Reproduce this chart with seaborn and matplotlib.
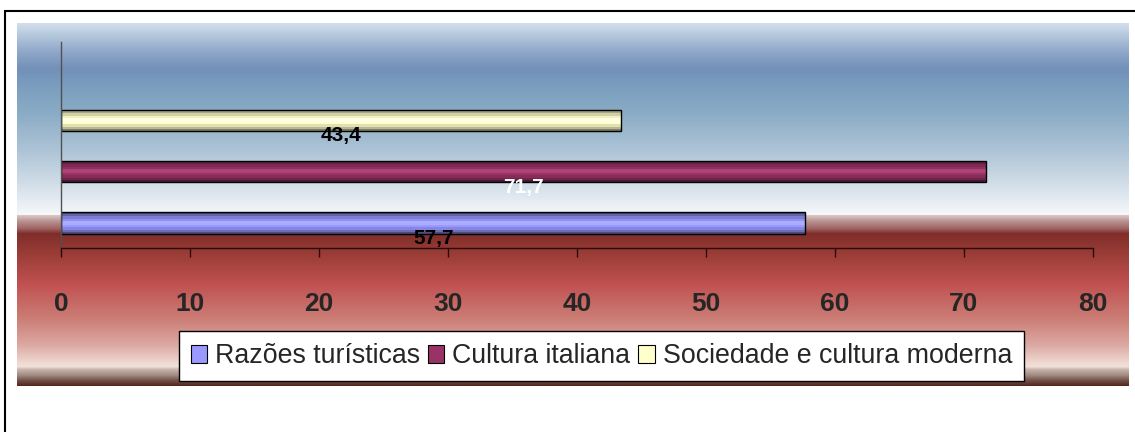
import numpy as np
import pandas as pd
import matplotlib.pyplot as plt
import seaborn as sns
from matplotlib.colors import to_rgb
from matplotlib.patches import Patch, Rectangle

# Dados
series = ["Razões turísticas", "Cultura italiana", "Sociedade e cultura moderna"]
valores = [57.7, 71.7, 43.4]
rotulos = ["57,7", "71,7", "43,4"]
cores = ["#9999FF", "#993366", "#FFFFCC"]
cor_rotulo = ["black", "white", "black"]
ticks_x = [0, 10, 20, 30, 40, 50, 60, 70, 80]

sns.set_theme(style="white")
plt.rcParams["font.family"] = ["Liberation Sans", "DejaVu Sans"]

W, H = 1135, 432
fig = plt.figure(figsize=(W / 100, H / 100), dpi=100)
fig.patch.set_facecolor("white")

# fundo em degradê (azul em cima, vermelho embaixo)
paradas = [
    (23, "#d2e0ec"), (35, "#b4c8dc"), (50, "#92aacb"), (68, "#7390b8"),
    (90, "#7da0c0"), (110, "#88aac4"), (150, "#adc4d6"), (185, "#d3dfe9"),
    (214, "#f6f8fa"), (215, "#dcc6c4"), (221, "#b89090"), (228, "#a06464"),
    (233, "#802e2a"), (255, "#9c3e38"), (283, "#c05050"), (320, "#cc8078"),
    (345, "#dcaaa4"), (362, "#eed8d0"), (366, "#f0e2da"), (369, "#c8b4ac"),
    (375, "#a08880"), (380, "#705048"), (386, "#502018"),
]
ys = np.arange(23, 386)
py = [p[0] for p in paradas]
pc = np.array([to_rgb(p[1]) for p in paradas])
grad = np.stack([np.interp(ys, py, pc[:, k]) for k in range(3)], axis=1)
bg = fig.add_axes([17 / W, 1 - 386 / H, (1129 - 17) / W, (386 - 23) / H])
bg.imshow(grad[:, None, :], aspect="auto", interpolation="bilinear")
bg.set_axis_off()

# moldura externa
fig.add_artist(Rectangle((5 / W, -0.1), 1.2, 1.1 - 11 / H, transform=fig.transFigure,
                         fill=False, edgecolor="black", linewidth=1.5))

# gráfico de barras
ax = fig.add_axes([61 / W, 1 - 248 / H, (1093 - 61) / W, (248 - 42) / H])
ax.set_facecolor("none")
ordem = series[::-1]
df = pd.DataFrame({"serie": series, "valor": valores})
sns.barplot(data=df, x="valor", y="serie", hue="serie", order=ordem, hue_order=series,
            palette=cores, orient="h", width=0.42, edgecolor="black", linewidth=1,
            legend=False, saturation=1, ax=ax)

# efeito cilíndrico nas barras
perfil = np.array([0.5, 0.65, 0.82, 0.95, 1.05, 1.05, 1.0, 0.88, 0.72, 0.5])
for p in list(ax.patches):
    base = np.array(p.get_facecolor()[:3])
    faixa = np.clip(base[None, :] * perfil[:, None] + np.where(perfil > 1, 0.05, 0)[:, None], 0, 1)
    x0, y0, w, h = p.get_x(), p.get_y(), p.get_width(), p.get_height()
    im = ax.imshow(faixa[:, None, :], extent=(x0, x0 + w, y0 + h, y0), origin="upper",
                   aspect="auto", interpolation="nearest", zorder=p.get_zorder() + 0.1)
    im.set_clip_path(p)
    p.set_facecolor("none")
    p.set_zorder(p.get_zorder() + 0.2)

# rótulos de dados
for s, v, r, c in zip(series, valores, rotulos, cor_rotulo):
    i = ordem.index(s)
    ax.text(v / 2, i + 0.3, r, ha="center", va="center", fontsize=15,
            fontweight="bold", color=c, zorder=5)

ax.set_xlim(0, 80)
ax.set_ylim(2.487, -1.528)
ax.set_xticks(ticks_x)
ax.set_xticklabels([str(t) for t in ticks_x], fontsize=19, fontweight="bold")
ax.set_yticks([])
ax.set_xlabel("")
ax.set_ylabel("")
ax.tick_params(axis="x", direction="out", length=6.5, width=1, color="#2a0a0a", pad=25,
               bottom=True)
for lado in ["top", "right"]:
    ax.spines[lado].set_visible(False)
ax.spines["left"].set_color("#505050")
ax.spines["left"].set_linewidth(1)
ax.spines["bottom"].set_color("#2a0a0a")
ax.spines["bottom"].set_linewidth(1)

# legenda
handles = [Patch(facecolor=c, edgecolor="black", linewidth=0.8) for c in cores]
leg = fig.legend(handles, series, ncol=3, loc="center",
                 bbox_to_anchor=((182 + 1021) / 2 / W, 1 - 356 / H),
                 fontsize=19.3, frameon=True, fancybox=False, handlelength=0.6,
                 handleheight=0.65, handletextpad=0.3, columnspacing=0.3,
                 borderpad=0.45, borderaxespad=0)
leg.get_frame().set_edgecolor("black")
leg.get_frame().set_linewidth(1)
leg.get_frame().set_facecolor("white")
leg.get_frame().set_alpha(1)

fig.savefig("out.png", dpi=100)
